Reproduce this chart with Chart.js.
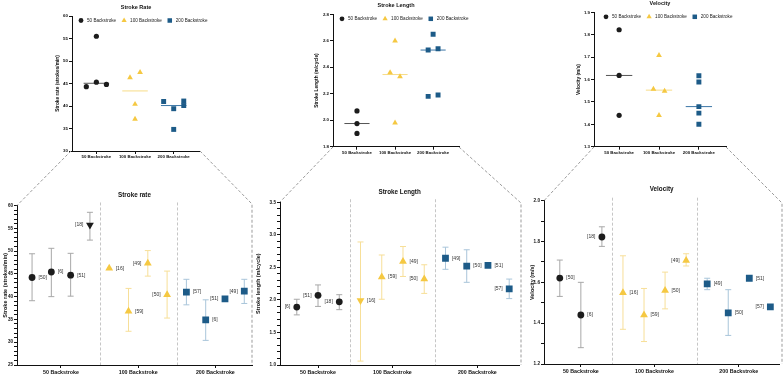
<!DOCTYPE html>
<html>
<head>
<meta charset="utf-8">
<script src="https://cdn.jsdelivr.net/npm/chart.js@4.4.1/dist/chart.umd.min.js"></script>
<style>
  html, body { margin: 0; padding: 0; background: #fff; }
  body { width: 784px; height: 376px; position: relative; overflow: hidden; }
  .panel { position: absolute; }
  svg { position: absolute; left: 0; top: 0; pointer-events: none; }
</style>
</head>
<body>
<div class="panel" style="left:52px;top:0;width:168px;height:162px"><canvas id="topRate"></canvas></div>
<div class="panel" style="left:311px;top:0;width:189px;height:160px"><canvas id="topLength"></canvas></div>
<div class="panel" style="left:573px;top:0;width:211px;height:160px"><canvas id="topVelocity"></canvas></div>
<div class="panel" style="left:0;top:188px;width:258px;height:188px"><canvas id="botRate"></canvas></div>
<div class="panel" style="left:252px;top:185px;width:272px;height:191px"><canvas id="botLength"></canvas></div>
<div class="panel" style="left:524px;top:182px;width:260px;height:194px"><canvas id="botVelocity"></canvas></div>

<svg width="784" height="376">
  <g stroke="#9b9b9b" stroke-width="1" stroke-dasharray="3,2" fill="none">
    <polyline points="71,151 17,205.5"/>
    <polyline points="200,151 252,204 252,365"/>
    <polyline points="333,147 280,202"/>
    <polyline points="459,147 521,203 521,365"/>
    <polyline points="594,147 544,200.7"/>
    <polyline points="726,147 782,203 782,364"/>
  </g>
</svg>

<script>
const groups = ["50 Backstroke", "100 Backstroke", "200 Backstroke"];

// ---- top row: individual study values (x = group position with jitter)
const rateTopX50 = [0.74, 1, 1, 1.26];
const rateTopY50 = [44.3, 45.3, 55.5, 44.8];
const rateTopX100 = [1.87, 2.13, 2, 2];
const rateTopY100 = [46.3, 47.5, 40.4, 37.1];
const rateTopX200 = [2.74, 3, 3, 3.26, 3.26];
const rateTopY200 = [41.0, 39.4, 34.8, 41.1, 40.1];

const lenTopX50 = [1, 1, 1];
const lenTopY50 = [2.07, 1.975, 1.9];
const lenTopX100 = [2, 1.87, 2.13, 2];
const lenTopY100 = [2.6, 2.36, 2.33, 1.98];
const lenTopX200 = [3, 2.87, 2.87, 3.13, 3.13];
const lenTopY200 = [2.65, 2.53, 2.18, 2.54, 2.19];

const velTopX50 = [1, 1, 1];
const velTopY50 = [1.822, 1.618, 1.44];
const velTopX100 = [2, 1.86, 2.14, 2];
const velTopY100 = [1.708, 1.557, 1.548, 1.44];
const velTopX200 = [3, 3, 3, 3, 3];
const velTopY200 = [1.617, 1.589, 1.479, 1.45, 1.4];

// ---- bottom row: study means with SD (null = no bar)
const rateRefs50 = ["[50]", "[6]", "[51]", "[18]"];
const rateMean50 = [44.2, 45.4, 44.7, 55.7];
const rateLo50 = [39.1, 40.0, 40.1, 52.4];
const rateHi50 = [49.4, 50.6, 49.5, 58.5];
const rateRefs100 = ["[16]", "[59]", "[49]", "[50]"];
const rateMean100 = [46.2, 36.8, 47.3, 40.4];
const rateLo100 = [null, 32.4, 44.5, 35.3];
const rateHi100 = [null, 41.8, 50.1, 45.6];
const rateRefs200 = ["[57]", "[6]", "[51]", "[49]"];
const rateMean200 = [41.0, 34.9, 39.5, 41.2];
const rateLo200 = [38.2, 30.4, null, 38.5];
const rateHi200 = [43.8, 39.3, null, 43.8];

const lenRefs50 = ["[6]", "[51]", "[18]"];
const lenMean50 = [1.89, 2.07, 1.97];
const lenLo50 = [1.77, 1.9, 1.85];
const lenHi50 = [2.01, 2.23, 2.08];
const lenRefs100 = ["[16]", "[59]", "[49]", "[50]"];
const lenMean100 = [1.99, 2.35, 2.59, 2.32];
const lenLo100 = [1.06, 2.01, 2.36, 2.1];
const lenHi100 = [2.89, 2.69, 2.82, 2.54];
const lenRefs200 = ["[49]", "[50]", "[51]", "[57]"];
const lenMean200 = [2.64, 2.52, 2.53, 2.17];
const lenLo200 = [2.47, 2.27, null, 2.02];
const lenHi200 = [2.81, 2.77, null, 2.32];

const velRefs50 = ["[50]", "[6]", "[18]"];
const velMean50 = [1.621, 1.44, 1.822];
const velLo50 = [1.531, 1.28, 1.776];
const velHi50 = [1.709, 1.6, 1.872];
const velRefs100 = ["[16]", "[59]", "[50]", "[49]"];
const velMean100 = [1.549, 1.44, 1.56, 1.707];
const velLo100 = [1.37, 1.31, 1.47, 1.68];
const velHi100 = [1.73, 1.57, 1.65, 1.74];
const velRefs200 = ["[49]", "[50]", "[51]", "[57]"];
const velMean200 = [1.592, 1.45, 1.62, 1.48];
const velLo200 = [1.564, 1.34, null, null];
const velHi200 = [1.62, 1.564, null, null];

// ---- styling
const FONT = '"Liberation Sans", Arial, sans-serif';
Chart.defaults.font.family = FONT;
Chart.defaults.color = "#222";

const BLACK = "#1c1c1c";
const YELLOW = "#f5c842";
const BLUE = "#1d5b88";
const markColors = [BLACK, YELLOW, BLUE];
const markStyles = ["circle", "triangle", "rect"];
const barColors = ["#a8a8a8", "#f7df98", "#a9c5da"];
const medianColors = ["#555555", "#f7dc88", "#3b76a6"];

function median(arr) {
  const s = [...arr].sort((a, b) => a - b);
  const m = Math.floor(s.length / 2);
  return s.length % 2 ? s[m] : (s[m - 1] + s[m]) / 2;
}

function drawMarker(ctx, style, x, y, r, color) {
  ctx.fillStyle = color;
  ctx.beginPath();
  if (style === "circle") {
    ctx.arc(x, y, r, 0, Math.PI * 2);
  } else if (style === "triangle") {
    ctx.moveTo(x, y - r);
    ctx.lineTo(x + r * 0.866, y + r * 0.5);
    ctx.lineTo(x - r * 0.866, y + r * 0.5);
    ctx.closePath();
  } else {
    ctx.rect(x - r * 0.707, y - r * 0.707, r * 1.414, r * 1.414);
  }
  ctx.fill();
}

// legend drawn inside the plot, along its top edge
const topLegendPlugin = {
  id: "topLegend",
  afterDraw(chart, args, opts) {
    const ctx = chart.ctx;
    const area = chart.chartArea;
    let x = area.left + opts.left;
    const y = area.top + 4.5;
    ctx.save();
    ctx.font = "4.6px " + FONT;
    ctx.textBaseline = "middle";
    chart.data.datasets
      .filter((d) => d.inLegend)
      .forEach((d) => {
        drawMarker(ctx, d.pointStyle, x, y, d.legendR, d.backgroundColor);
        ctx.fillStyle = "#222";
        ctx.fillText(d.label, x + 6, y + 0.3);
        x += 6 + ctx.measureText(d.label).width + 8;
      });
    ctx.restore();
  },
};

// separators, error bars and study labels for the bottom row
const studyPlugin = {
  id: "studies",
  beforeDatasetsDraw(chart, args, opts) {
    const ctx = chart.ctx;
    const area = chart.chartArea;
    const xs = chart.scales.x;
    const ys = chart.scales.y;
    ctx.save();
    ctx.strokeStyle = "#c6c6c6";
    ctx.lineWidth = 1;
    ctx.setLineDash([3, 2]);
    (opts.separators || []).forEach((v) => {
      const px = Math.round(xs.getPixelForValue(v)) + 0.5;
      ctx.beginPath();
      ctx.moveTo(px, area.top - 3);
      ctx.lineTo(px, area.bottom);
      ctx.stroke();
    });
    ctx.setLineDash([]);
    chart.data.datasets.forEach((ds, i) => {
      if (!ds.lo) return;
      const meta = chart.getDatasetMeta(i);
      ctx.strokeStyle = ds.barColor;
      meta.data.forEach((pt, j) => {
        if (ds.lo[j] == null) return;
        const y1 = ys.getPixelForValue(ds.lo[j]);
        const y2 = ys.getPixelForValue(ds.hi[j]);
        ctx.beginPath();
        ctx.moveTo(pt.x, y1);
        ctx.lineTo(pt.x, y2);
        ctx.moveTo(pt.x - 3, y1);
        ctx.lineTo(pt.x + 3, y1);
        ctx.moveTo(pt.x - 3, y2);
        ctx.lineTo(pt.x + 3, y2);
        ctx.stroke();
      });
    });
    ctx.restore();
  },
  afterDatasetsDraw(chart) {
    const ctx = chart.ctx;
    ctx.save();
    ctx.font = "5px " + FONT;
    ctx.fillStyle = "#333";
    ctx.textBaseline = "middle";
    chart.data.datasets.forEach((ds, i) => {
      if (!ds.refs) return;
      const meta = chart.getDatasetMeta(i);
      meta.data.forEach((pt, j) => {
        const left = ds.sides[j] === "L";
        ctx.textAlign = left ? "right" : "left";
        ctx.fillText(ds.refs[j], pt.x + (left ? -6.5 : 6.5), pt.y);
      });
    });
    ctx.restore();
  },
};

function axisStyle() {
  return {
    grid: { drawOnChartArea: false, drawTicks: true, tickLength: 3, color: "#111", tickWidth: 1 },
    border: { display: true, color: "#111", width: 1 },
  };
}

function topChart(id, cfg) {
  const datasets = [];
  cfg.ys.forEach((ys, g) => {
    datasets.push({
      label: groups[g],
      data: ys.map((y, i) => ({ x: cfg.xs[g][i], y })),
      pointStyle: markStyles[g],
      pointRadius: [2.6, 3.3, 3.5][g],
      legendR: [2.4, 3.0, 3.2][g],
      backgroundColor: markColors[g],
      borderColor: markColors[g],
      pointBorderWidth: 0,
      inLegend: true,
    });
  });
  cfg.ys.forEach((ys, g) => {
    const m = median(ys);
    datasets.push({
      data: [{ x: g + 1 - 0.33, y: m }, { x: g + 1 + 0.33, y: m }],
      showLine: true,
      pointRadius: 0,
      borderColor: medianColors[g],
      borderWidth: 1,
    });
  });

  new Chart(document.getElementById(id), {
    type: "scatter",
    data: { datasets },
    options: {
      responsive: true,
      maintainAspectRatio: false,
      animation: false,
      events: [],
      layout: { padding: { right: cfg.padRight } },
      plugins: {
        legend: { display: false },
        tooltip: { enabled: false },
        title: {
          display: true,
          text: cfg.title,
          fullSize: false,
          color: "#111",
          font: { size: 5.5, weight: "bold" },
          padding: cfg.titlePad,
        },
        topLegend: { left: cfg.legendLeft },
      },
      scales: {
        x: {
          type: "linear",
          min: 0.37,
          max: 3.68,
          afterBuildTicks: (s) => { s.ticks = [1, 2, 3].map((v) => ({ value: v })); },
          afterFit: (s) => { s.height = cfg.xHeight; },
          ticks: {
            callback: (v, i) => groups[i],
            font: { size: 4.4, weight: "bold" },
            color: "#111",
            padding: 0,
            maxRotation: 0,
            autoSkip: false,
          },
          ...axisStyle(),
        },
        y: {
          min: cfg.yMin,
          max: cfg.yMax,
          afterFit: (s) => { s.width = cfg.yWidth; },
          ticks: {
            stepSize: cfg.yStep,
            callback: (v) => v.toFixed(cfg.yDigits),
            font: { size: 4.4, weight: "bold" },
            color: "#111",
            padding: 1,
            autoSkip: false,
          },
          title: {
            display: true,
            text: cfg.yTitle,
            color: "#111",
            font: { size: 4.8, weight: "bold" },
            padding: { top: 3.1, bottom: 0 },
          },
          ...axisStyle(),
        },
      },
    },
    plugins: [topLegendPlugin],
  });
}

function bottomChart(id, cfg) {
  let idx = 0;
  const datasets = cfg.means.map((means, g) => {
    const down = cfg.down[g];
    const data = means.map((y) => ({ x: idx++, y }));
    return {
      data,
      pointStyle: means.map((_, j) => (down.includes(j) ? "triangle" : markStyles[g])),
      pointRotation: means.map((_, j) => (down.includes(j) ? 180 : 0)),
      pointRadius: means.map((_, j) => (down.includes(j) || g === 1 ? 4.5 : g === 2 ? 4.8 : 3.4)),
      backgroundColor: markColors[g],
      borderColor: markColors[g],
      pointBorderWidth: 0,
      lo: cfg.lo[g],
      hi: cfg.hi[g],
      refs: cfg.refs[g],
      sides: cfg.sides[g],
      barColor: barColors[g],
    };
  });

  const isMajor = (v) => Math.abs(v / cfg.yMajor - Math.round(v / cfg.yMajor)) < 1e-6;

  new Chart(document.getElementById(id), {
    type: "scatter",
    data: { datasets },
    options: {
      responsive: true,
      maintainAspectRatio: false,
      animation: false,
      events: [],
      layout: { padding: { right: cfg.padRight } },
      plugins: {
        legend: { display: false },
        tooltip: { enabled: false },
        title: {
          display: true,
          text: cfg.title,
          fullSize: false,
          color: "#111",
          font: { size: 6.3, weight: "bold" },
          padding: cfg.titlePad,
        },
        studies: { separators: cfg.separators },
      },
      scales: {
        x: {
          type: "linear",
          min: cfg.xMin,
          max: cfg.xMax,
          afterBuildTicks: (s) => { s.ticks = cfg.labelAt.map((v) => ({ value: v })); },
          afterFit: (s) => { s.height = cfg.xHeight; },
          ticks: {
            callback: (v, i) => groups[i],
            font: { size: 5.3, weight: "bold" },
            color: "#111",
            padding: 1,
            maxRotation: 0,
            autoSkip: false,
          },
          ...axisStyle(),
        },
        y: {
          min: cfg.yMin,
          max: cfg.yMax,
          afterFit: (s) => { s.width = cfg.yWidth; },
          ticks: {
            stepSize: cfg.yStep,
            callback: (v) => (isMajor(v) ? v.toFixed(cfg.yDigits) : ""),
            font: { size: 4.6, weight: "bold" },
            color: "#111",
            padding: 1,
            autoSkip: false,
          },
          title: {
            display: true,
            text: cfg.yTitle,
            color: "#111",
            font: { size: 5.5, weight: "bold" },
            padding: { top: cfg.yTitlePad, bottom: 0 },
          },
          ...axisStyle(),
        },
      },
    },
    plugins: [studyPlugin],
  });
}

topChart("topRate", {
  title: "Stroke Rate",
  titlePad: { top: 3.7, bottom: 5.7 },
  xs: [rateTopX50, rateTopX100, rateTopX200],
  ys: [rateTopY50, rateTopY100, rateTopY200],
  yMin: 30, yMax: 60, yStep: 5, yDigits: 0,
  yTitle: "Stroke rate (strokes/min)",
  yWidth: 20, xHeight: 11, padRight: 20, legendLeft: 9,
});

topChart("topLength", {
  title: "Stroke Length",
  titlePad: { top: 2.2, bottom: 5.5 },
  xs: [lenTopX50, lenTopX100, lenTopX200],
  ys: [lenTopY50, lenTopY100, lenTopY200],
  yMin: 1.8, yMax: 2.8, yStep: 0.2, yDigits: 1,
  yTitle: "Stroke Length (m/cycle)",
  yWidth: 22, xHeight: 13.3, padRight: 41, legendLeft: 9,
});

topChart("topVelocity", {
  title: "Velocity",
  titlePad: { top: 0.2, bottom: 5.5 },
  xs: [velTopX50, velTopX100, velTopX200],
  ys: [velTopY50, velTopY100, velTopY200],
  yMin: 1.3, yMax: 1.9, yStep: 0.1, yDigits: 1,
  yTitle: "Velocity (m/s)",
  yWidth: 21, xHeight: 13.3, padRight: 58, legendLeft: 12,
});

bottomChart("botRate", {
  title: "Stroke rate",
  titlePad: { top: 3.2, bottom: 6.7 },
  refs: [rateRefs50, rateRefs100, rateRefs200],
  means: [rateMean50, rateMean100, rateMean200],
  lo: [rateLo50, rateLo100, rateLo200],
  hi: [rateHi50, rateHi100, rateHi200],
  sides: [["R", "R", "R", "L"], ["R", "R", "L", "L"], ["R", "R", "L", "L"]],
  down: [[3], [], []],
  xMin: -0.78, xMax: 11.4, labelAt: [1.5, 5.5, 9.5], separators: [3.5, 7.5],
  yMin: 25, yMax: 60, yStep: 1, yMajor: 5, yDigits: 0,
  yTitle: "Stroke rate (strokes/min)", yTitlePad: 1.7,
  yWidth: 17, xHeight: 11, padRight: 6,
});

bottomChart("botLength", {
  title: "Stroke Length",
  titlePad: { top: 3.5, bottom: 6.2 },
  refs: [lenRefs50, lenRefs100, lenRefs200],
  means: [lenMean50, lenMean100, lenMean200],
  lo: [lenLo50, lenLo100, lenLo200],
  hi: [lenHi50, lenHi100, lenHi200],
  sides: [["L", "L", "L"], ["R", "R", "R", "L"], ["R", "R", "R", "L"]],
  down: [[], [0], []],
  xMin: -0.79, xMax: 10.47, labelAt: [1, 4.5, 8.5], separators: [2.5, 6.5],
  yMin: 1.0, yMax: 3.5, yStep: 0.1, yMajor: 0.5, yDigits: 1,
  yTitle: "Stroke length (m/cycle)", yTitlePad: 2.7,
  yWidth: 28, xHeight: 11, padRight: 3,
});

bottomChart("botVelocity", {
  title: "Velocity",
  titlePad: { top: 3.5, bottom: 7.6 },
  refs: [velRefs50, velRefs100, velRefs200],
  means: [velMean50, velMean100, velMean200],
  lo: [velLo50, velLo100, velLo200],
  hi: [velHi50, velHi100, velHi200],
  sides: [["R", "R", "L"], ["R", "R", "R", "L"], ["R", "R", "R", "L"]],
  down: [[], [], []],
  xMin: -0.75, xMax: 10.42, labelAt: [1, 4.5, 8.5], separators: [2.5, 6.5],
  yMin: 1.2, yMax: 2.0, yStep: 0.1, yMajor: 0.2, yDigits: 1,
  yTitle: "Velocity (m/s)", yTitlePad: 4.7,
  yWidth: 20, xHeight: 12, padRight: 2,
});
</script>
</body>
</html>
